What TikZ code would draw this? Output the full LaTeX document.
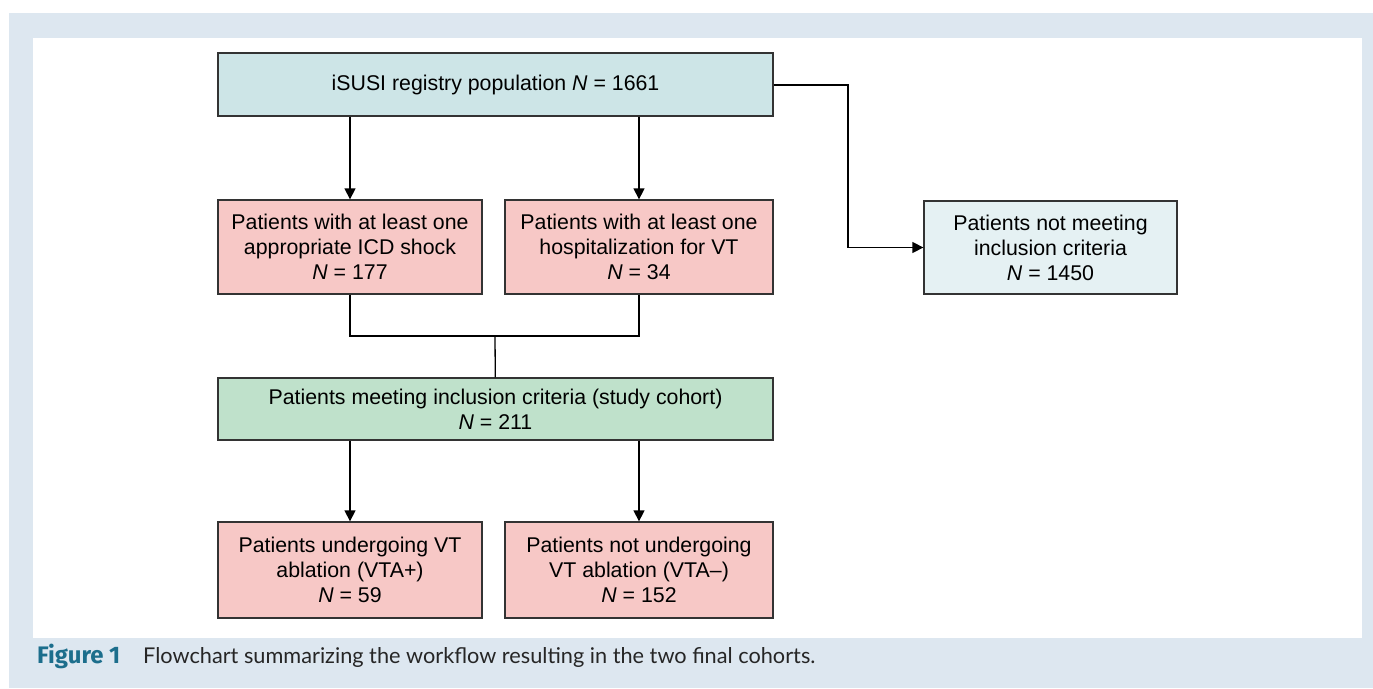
\documentclass[tikz,border=0pt]{standalone}
\usepackage{fontspec}
\setmainfont{Liberation Sans}
\newfontfamily\capfont{Lato}
\newfontfamily\caplabelfont{Fira Sans}
\usepackage{tikz}
\usetikzlibrary{arrows.meta}
\definecolor{pagebg}{HTML}{DDE7F0}
\definecolor{regfill}{HTML}{CDE5E7}
\definecolor{pinkfill}{HTML}{F7C8C6}
\definecolor{exclfill}{HTML}{E5F1F3}
\definecolor{cohortfill}{HTML}{BFE1CB}
\definecolor{boxline}{HTML}{333333}
\definecolor{figteal}{HTML}{1C6E8C}

\begin{document}
\begin{tikzpicture}[x=1bp,y=-1bp,
	flowbox/.style={draw=boxline,line width=1.3bp,align=center,inner sep=0pt,
		font=\fontsize{21.4}{25}\selectfont},
	flowline/.style={line width=1.3bp,black},
	flowarrow/.style={flowline,-{Triangle[length=11bp,width=11bp]}}]
			\useasboundingbox (0,0) rectangle (1373,688);
			\fill[pagebg] (9,13) rectangle (1373,688);
			\fill[white] (33,38) rectangle (1362,638);
			% boxes
			\node[flowbox,fill=regfill,minimum width=555bp,minimum height=63bp] (reg) at (495.5,84.5) {iSUSI registry population \textit{N} = 1661};
			\node[flowbox,fill=pinkfill,minimum width=264bp,minimum height=94bp] (shock) at (350,247) {Patients with at least one\\appropriate ICD shock\\\textit{N} = 177};
			\node[flowbox,fill=pinkfill,minimum width=268bp,minimum height=94bp] (hosp) at (639,247) {Patients with at least one\\hospitalization for VT\\\textit{N} = 34};
			\node[flowbox,fill=exclfill,minimum width=253bp,minimum height=93bp] (excl) at (1050.5,247.5) {Patients not meeting\\inclusion criteria\\\textit{N} = 1450};
			\node[flowbox,fill=cohortfill,minimum width=555bp,minimum height=62bp] (cohort) at (495.5,409) {Patients meeting inclusion criteria (study cohort)\\\textit{N} = 211};
			\node[flowbox,fill=pinkfill,minimum width=264bp,minimum height=96bp] (vtap) at (350,570) {Patients undergoing VT\\ablation (VTA+)\\\textit{N} = 59};
			\node[flowbox,fill=pinkfill,minimum width=268bp,minimum height=96bp] (vtam) at (639,570) {Patients not undergoing\\VT ablation (VTA--)\\\textit{N} = 152};
			% connectors
			\coordinate (merge) at (495,336);
			\draw[flowarrow] (reg.south -| shock) -- (shock);
			\draw[flowarrow] (reg.south -| hosp) -- (hosp);
			\draw[flowarrow] (reg.east |- 0,85) -| (848,200) |- (excl.west);
			\draw[flowline] (shock) |- (merge) -| (hosp);
			\draw[flowline] (merge) -- (cohort);
			\draw[flowarrow] (cohort.south -| vtap) -- (vtap);
			\draw[flowarrow] (cohort.south -| vtam) -- (vtam);
			% caption
			\node[anchor=base west,inner sep=0pt,font=\caplabelfont\fontsize{24}{28}\selectfont\bfseries,text=figteal] (figlabel) at (37,663) {Figure 1};
			\node[anchor=base west,inner sep=0pt,font=\capfont\fontsize{21.8}{26}\selectfont,text=black!85] (figtext) at (143,663) {Flowchart summarizing the workflow resulting in the two final cohorts.};
\end{tikzpicture}
\end{document}
